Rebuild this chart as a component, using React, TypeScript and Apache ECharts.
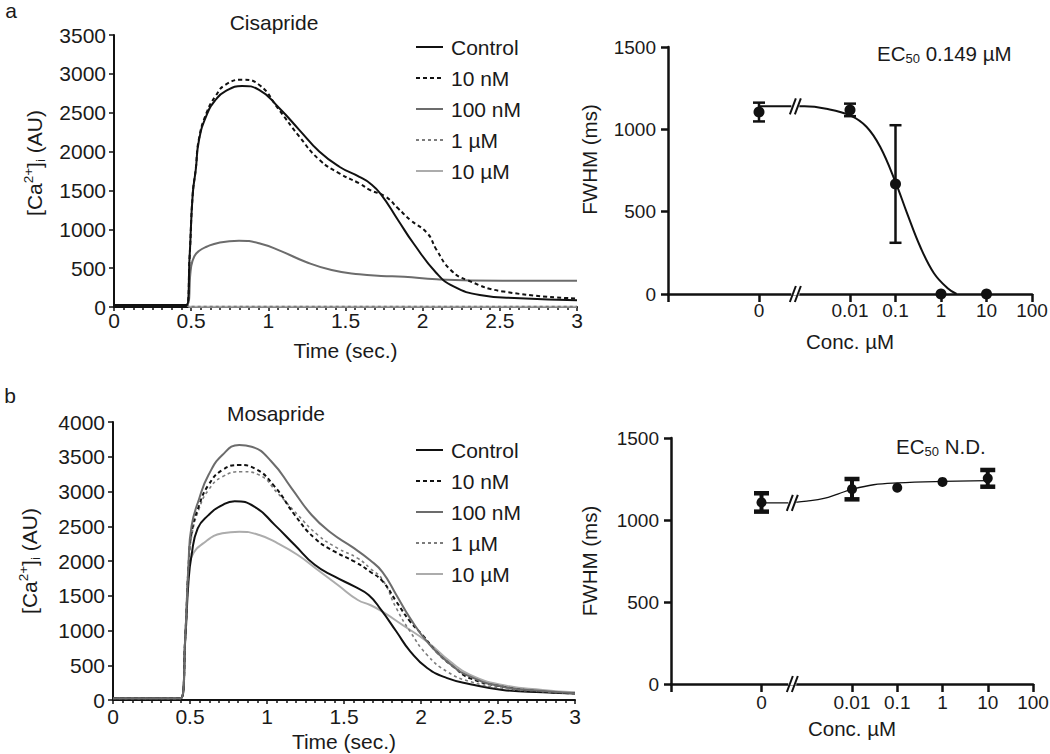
import React, { useEffect, useRef } from 'react';
import * as echarts from 'echarts';

const FONT = '"Liberation Sans", Arial, Helvetica, sans-serif';
const TXT = '#1a1a1a';
const AX = '#111111';

// ---------- Panel a : Cisapride Ca2+ transients ----------
const ctrlA_t = [0, 0.47, 0.49, 0.51, 0.53, 0.55, 0.6, 0.66, 0.72, 0.83, 0.94, 1.07, 1.2, 1.33, 1.46, 1.59, 1.66, 1.73, 1.84, 1.94, 2.09, 2.2, 2.37, 2.63, 3.0];
const ctrlA_v = [26, 26, 650, 1450, 1770, 2140, 2470, 2670, 2775, 2845, 2795, 2560, 2280, 2000, 1805, 1675, 1590, 1450, 1120, 820, 435, 265, 155, 112, 88];
const nm10A_t = [0, 0.47, 0.49, 0.51, 0.53, 0.55, 0.6, 0.66, 0.72, 0.83, 0.94, 1.07, 1.2, 1.33, 1.46, 1.59, 1.66, 1.76, 1.84, 1.92, 2.03, 2.09, 2.18, 2.29, 2.52, 3.0];
const nm10A_v = [26, 26, 650, 1450, 1780, 2160, 2500, 2720, 2857, 2925, 2860, 2535, 2195, 1895, 1720, 1590, 1505, 1420, 1270, 1120, 950, 735, 480, 345, 200, 110];
const nm100A_t = [0, 0.47, 0.5, 0.52, 0.55, 0.6, 0.68, 0.81, 0.94, 1.09, 1.24, 1.41, 1.59, 1.73, 1.88, 2.09, 2.52, 3.0];
const nm100A_v = [26, 26, 520, 650, 720, 775, 828, 853, 820, 712, 583, 476, 420, 400, 390, 356, 338, 338];
const um1A_t = [0, 0.47, 0.49, 3.0];
const um1A_v = [26, 26, 5, 5];
const um10A_t = [0, 0.47, 0.49, 3.0];
const um10A_v = [26, 26, 4, 4];

// ---------- Panel b : Mosapride Ca2+ transients ----------
const ctrlB_t = [0, 0.44, 0.47, 0.49, 0.51, 0.55, 0.62, 0.71, 0.79, 0.92, 1.05, 1.18, 1.31, 1.44, 1.57, 1.66, 1.74, 1.84, 1.93, 2.04, 2.17, 2.32, 2.53, 2.79, 3.0];
const ctrlB_v = [24, 24, 900, 1700, 2080, 2470, 2660, 2805, 2860, 2780, 2520, 2230, 1945, 1775, 1630, 1510, 1300, 985, 700, 460, 315, 228, 145, 110, 95];
const nm10B_t = [0, 0.44, 0.47, 0.49, 0.51, 0.56, 0.62, 0.71, 0.82, 0.92, 1.05, 1.18, 1.31, 1.44, 1.57, 1.67, 1.75, 1.84, 1.93, 2.01, 2.1, 2.21, 2.32, 2.53, 2.79, 3.0];
const nm10B_v = [24, 24, 950, 1900, 2400, 2806, 3094, 3309, 3381, 3333, 3070, 2662, 2326, 2134, 1990, 1846, 1710, 1415, 1127, 935, 695, 479, 312, 192, 120, 96];
const nm100B_t = [0, 0.44, 0.47, 0.49, 0.51, 0.56, 0.62, 0.71, 0.82, 0.9, 1.03, 1.16, 1.29, 1.42, 1.55, 1.67, 1.75, 1.84, 1.93, 2.04, 2.17, 2.32, 2.53, 2.79, 3.0];
const nm100B_v = [24, 24, 950, 1950, 2500, 2900, 3237, 3525, 3669, 3645, 3429, 3046, 2662, 2398, 2206, 2010, 1840, 1511, 1175, 839, 552, 336, 192, 130, 96];
const um1B_t = [0, 0.44, 0.47, 0.49, 0.51, 0.56, 0.62, 0.71, 0.84, 0.95, 1.07, 1.2, 1.33, 1.46, 1.59, 1.67, 1.75, 1.84, 1.93, 2.04, 2.17, 2.32, 2.53, 2.79, 3.0];
const um1B_v = [24, 24, 950, 1900, 2350, 2758, 3022, 3213, 3285, 3237, 2974, 2662, 2374, 2182, 2038, 1894, 1730, 1319, 983, 647, 408, 264, 168, 120, 96];
const um10B_t = [0, 0.44, 0.47, 0.49, 0.51, 0.6, 0.71, 0.82, 0.95, 1.07, 1.2, 1.33, 1.46, 1.59, 1.67, 1.75, 1.88, 2.04, 2.19, 2.32, 2.53, 2.79, 3.0];
const um10B_v = [24, 24, 950, 1850, 2062, 2278, 2398, 2422, 2374, 2254, 2086, 1871, 1655, 1439, 1367, 1271, 1079, 839, 552, 360, 216, 144, 110];

const traceNames = ['Control', '10 nM', '100 nM', '1 \u00B5M', '10 \u00B5M'];
const timeTicks = [0, 0.5, 1, 1.5, 2, 2.5, 3];

// ---------- Panels c / d : FWHM vs concentration ----------
const concValues = [0, 0.01, 0.1, 1, 10];
const concTickLabels = ['0', '0.01', '0.1', '1', '10', '100'];
const ZERO_POS = 1e-4; // where the "0" concentration is drawn on the log axis
const cisMean = [1105, 1118, 668, 0, 0];
const cisErr = [57, 38, 357, 0, 0];
const cisTop = 1140;
const cisFitX = [0.0007, 0.001, 0.003, 0.01, 0.023, 0.046, 0.1, 0.18, 0.35, 0.7, 1.4, 2.2];
const cisFitY = [1140, 1140, 1125, 1085, 1016, 894, 680, 490, 287, 126, 35, 0];
const mosMean = [1107, 1188, 1197, 1232, 1254];
const mosErr = [56, 62, 0, 0, 51];
const mosTop = 1105;
const mosFitX = [0.00055, 0.001, 0.0024, 0.005, 0.01, 0.03, 0.1, 1, 10];
const mosFitY = [1108, 1115, 1132, 1160, 1187, 1215, 1226, 1235, 1240];

const traceStyles = [
  { color: '#111111', width: 2, type: 'solid' as any },
  { color: '#111111', width: 2, type: [4, 3] as any },
  { color: '#6c6c6c', width: 2, type: 'solid' as any },
  { color: '#7c7c7c', width: 1.6, type: [3, 3] as any },
  { color: '#acacac', width: 2, type: 'solid' as any },
];

const pos = (c: number) => (c === 0 ? ZERO_POS : c);

function traceSeries(idx: number, t: number[], v: number[], axis: number, z: number) {
  const st = traceStyles[idx];
  return {
    type: 'line',
    name: traceNames[idx],
    xAxisIndex: axis,
    yAxisIndex: axis,
    data: t.map((x, i) => [x, v[i]]),
    symbol: 'none',
    showSymbol: false,
    smooth: 0.5,
    lineStyle: { color: st.color, width: st.width, type: st.type },
    itemStyle: { color: st.color },
    z,
  };
}

function errorSeries(axis: number, mean: number[], err: number[], capW: number, capLW: number, stemW: number) {
  const data = concValues
    .map((c, i) => [pos(c), mean[i], err[i]])
    .filter((d) => d[2] > 0);
  return {
    type: 'custom',
    xAxisIndex: axis,
    yAxisIndex: axis,
    data,
    encode: { x: 0, y: 1 },
    z: 5,
    renderItem: (_p: any, api: any) => {
      const x = api.value(0);
      const m = api.value(1);
      const e = api.value(2);
      const top = api.coord([x, m + e]);
      const bot = api.coord([x, m - e]);
      const hw = capW / 2;
      const st = { stroke: AX, lineWidth: stemW };
      const cs = { stroke: AX, lineWidth: capLW };
      return {
        type: 'group',
        children: [
          { type: 'line', shape: { x1: top[0], y1: top[1], x2: bot[0], y2: bot[1] }, style: st },
          { type: 'line', shape: { x1: top[0] - hw, y1: top[1], x2: top[0] + hw, y2: top[1] }, style: cs },
          { type: 'line', shape: { x1: bot[0] - hw, y1: bot[1], x2: bot[0] + hw, y2: bot[1] }, style: cs },
        ],
      };
    },
  };
}

function breakSeries(axis: number, pts: number[][]) {
  return {
    type: 'custom',
    xAxisIndex: axis,
    yAxisIndex: axis,
    data: pts,
    encode: { x: 0, y: 1 },
    z: 6,
    renderItem: (_p: any, api: any) => {
      const p = api.coord([api.value(0), api.value(1)]);
      const mk = (o: number) => ({
        type: 'line',
        shape: { x1: p[0] + o - 3, y1: p[1] + 8, x2: p[0] + o + 3, y2: p[1] - 8 },
        style: { stroke: AX, lineWidth: 2 },
      });
      return {
        type: 'group',
        children: [
          { type: 'rect', shape: { x: p[0] - 4, y: p[1] - 1.5, width: 8, height: 3 }, style: { fill: '#fff' } },
          mk(-2.5),
          mk(2.5),
        ],
      };
    },
  };
}

const labelFont = { fontFamily: FONT, fontSize: 21, color: TXT };
const smallFont = { fontFamily: FONT, fontSize: 19, color: TXT };
const nameFont = { fontFamily: FONT, fontSize: 20.5, color: TXT };
const plainNum = (v: number) => String(v);

const caRich = {
  n: { fontFamily: FONT, fontSize: 21, color: TXT, lineHeight: 26 },
  sup: { fontFamily: FONT, fontSize: 13.5, color: TXT, lineHeight: 13, verticalAlign: 'top' },
  sub: { fontFamily: FONT, fontSize: 13.5, color: TXT, lineHeight: 13, verticalAlign: 'bottom' },
};
const caName = '{n|[Ca}{sup|2+}{n|]}{sub|i}{n| (AU)}';

function timeXAxis(grid: number, labelMargin: number, nameGap: number) {
  return {
    gridIndex: grid,
    type: 'value',
    min: timeTicks[0],
    max: timeTicks[timeTicks.length - 1],
    interval: 0.5,
    axisLine: { show: true, onZero: false, lineStyle: { color: AX, width: 2 } },
    axisTick: { show: true, length: 4, lineStyle: { color: AX, width: 1.5 } },
    minorTick: { show: true, splitNumber: 8, length: 3, lineStyle: { color: AX, width: 1.5 } },
    splitLine: { show: false },
    minorSplitLine: { show: false },
    axisLabel: { ...labelFont, margin: labelMargin, formatter: plainNum },
    name: 'Time (sec.)',
    nameLocation: 'middle',
    nameGap,
    nameTextStyle: { ...labelFont },
  };
}

function caYAxis(grid: number, max: number, nameGap: number, shift: number) {
  return {
    gridIndex: grid,
    type: 'value',
    min: 0,
    max,
    interval: 500,
    axisLine: { show: true, onZero: false, lineStyle: { color: AX, width: 2 } },
    axisTick: { show: true, length: 5, lineStyle: { color: AX, width: 1.5 } },
    splitLine: { show: false },
    axisLabel: { ...labelFont, margin: 8, formatter: plainNum },
    name: caName,
    nameLocation: 'middle',
    nameRotate: 90,
    nameGap,
    nameTextStyle: { rich: caRich, padding: [0, 0, 0, shift] },
  };
}

const concFormatter = (v: number) => {
  const e = Math.round(Math.log10(v));
  const map: Record<string, string> = {
    '-4': concTickLabels[0],
    '-2': concTickLabels[1],
    '-1': concTickLabels[2],
    '0': concTickLabels[3],
    '1': concTickLabels[4],
    '2': concTickLabels[5],
  };
  return map[String(e)] ?? '';
};

function concXAxis(grid: number, labelMargin: number, nameGap: number) {
  return {
    gridIndex: grid,
    type: 'log',
    logBase: 10,
    min: 1e-6,
    max: 100,
    axisLine: { show: true, onZero: false, lineStyle: { color: AX, width: 2.5 } },
    axisTick: {
      show: true,
      length: 8,
      customValues: [1e-6, ZERO_POS, 0.01, 0.1, 1, 10, 100],
      lineStyle: { color: AX, width: 2.5 },
    },
    minorTick: { show: false },
    splitLine: { show: false },
    axisLabel: {
      ...smallFont,
      margin: labelMargin,
      customValues: [ZERO_POS, 0.01, 0.1, 1, 10, 100],
      formatter: concFormatter,
    },
    name: 'Conc. \u00B5M',
    nameLocation: 'middle',
    nameGap,
    nameTextStyle: { ...nameFont },
  };
}

function fwhmYAxis(grid: number, nameGap: number, shift: number) {
  return {
    gridIndex: grid,
    type: 'value',
    min: 0,
    max: 1500,
    interval: 500,
    axisLine: { show: true, onZero: false, lineStyle: { color: AX, width: 2.5 } },
    axisTick: { show: true, length: 7, lineStyle: { color: AX, width: 2.5 } },
    splitLine: { show: false },
    axisLabel: { ...smallFont, margin: 12, formatter: plainNum },
    name: 'FWHM (ms)',
    nameLocation: 'middle',
    nameRotate: 90,
    nameGap,
    nameTextStyle: { ...nameFont, padding: [0, 0, 0, shift] },
  };
}

function legendFor(top: number) {
  return {
    data: traceNames,
    orient: 'vertical',
    left: 410,
    top,
    itemWidth: 27,
    itemHeight: 12,
    itemGap: 9,
    selectedMode: false,
    itemStyle: { color: 'rgba(0,0,0,0)', borderWidth: 0, opacity: 0 },
    textStyle: { ...labelFont, lineHeight: 22, padding: [0, 0, 0, 3] },
  };
}

const textEl = (text: string, x: number, y: number, align = 'center') => ({
  type: 'text',
  x,
  y,
  style: { text, fill: TXT, font: `21px ${FONT}`, align, verticalAlign: 'middle' },
});

const ecRich = {
  n: { fontFamily: FONT, fontSize: 20.5, fill: TXT, color: TXT, lineHeight: 24 },
  s: { fontFamily: FONT, fontSize: 13, fill: TXT, color: TXT, lineHeight: 13, verticalAlign: 'bottom' },
};
const ecEl = (rest: string, x: number, y: number) => ({
  type: 'text',
  x,
  y,
  style: { text: `{n|EC}{s|50}{n|${rest}}`, rich: ecRich, align: 'left', verticalAlign: 'middle', fill: TXT },
});

export default function App() {
  const ref = useRef<HTMLDivElement>(null);
  useEffect(() => {
    if (!ref.current) return;
    const chart = echarts.init(ref.current, undefined, { renderer: 'svg' });
    const option: any = {
      animation: false,
      backgroundColor: '#ffffff',
      textStyle: { fontFamily: FONT },
      grid: [
        { left: 114, top: 35, width: 463, height: 272, containLabel: false, outerBoundsMode: 'none' },
        { left: 113, top: 422, width: 462, height: 278, containLabel: false, outerBoundsMode: 'none' },
        { left: 668, top: 47, width: 364, height: 247, containLabel: false, outerBoundsMode: 'none' },
        { left: 671, top: 438, width: 362, height: 246, containLabel: false, outerBoundsMode: 'none' },
      ],
      xAxis: [timeXAxis(0, 3, 33), timeXAxis(1, 6, 31), concXAxis(2, 7, 37), concXAxis(3, 9, 34)],
      yAxis: [caYAxis(0, 3500, 67, 16), caYAxis(1, 4000, 71, 0), fwhmYAxis(2, 68, 22), fwhmYAxis(3, 71, 0)],
      legend: [legendFor(31), legendFor(434)],
      series: [
        traceSeries(4, um10A_t, um10A_v, 0, 2),
        traceSeries(3, um1A_t, um1A_v, 0, 3),
        traceSeries(2, nm100A_t, nm100A_v, 0, 4),
        traceSeries(1, nm10A_t, nm10A_v, 0, 5),
        traceSeries(0, ctrlA_t, ctrlA_v, 0, 6),
        traceSeries(4, um10B_t, um10B_v, 1, 2),
        traceSeries(0, ctrlB_t, ctrlB_v, 1, 3),
        traceSeries(3, um1B_t, um1B_v, 1, 4),
        traceSeries(1, nm10B_t, nm10B_v, 1, 5),
        traceSeries(2, nm100B_t, nm100B_v, 1, 6),
        // panel c
        {
          type: 'line', xAxisIndex: 2, yAxisIndex: 2, symbol: 'none',
          data: [[ZERO_POS, cisTop], [5.6e-4, cisTop]],
          lineStyle: { color: AX, width: 2 }, z: 3,
        },
        {
          type: 'line', xAxisIndex: 2, yAxisIndex: 2, symbol: 'none', smooth: 0.4,
          data: cisFitX.map((x, i) => [x, cisFitY[i]]),
          lineStyle: { color: AX, width: 2 }, z: 3,
        },
        errorSeries(2, cisMean, cisErr, 12, 2.5, 2.5),
        {
          type: 'scatter', xAxisIndex: 2, yAxisIndex: 2, symbol: 'circle', symbolSize: 11,
          data: concValues.map((c, i) => [pos(c), cisMean[i]]),
          itemStyle: { color: AX, opacity: 1 }, z: 7,
        },
        breakSeries(2, [[6.3e-4, 0], [6.3e-4, cisTop]]),
        // panel d
        {
          type: 'line', xAxisIndex: 3, yAxisIndex: 3, symbol: 'none',
          data: [[ZERO_POS, mosTop], [4.3e-4, mosTop]],
          lineStyle: { color: AX, width: 1.3 }, z: 3,
        },
        {
          type: 'line', xAxisIndex: 3, yAxisIndex: 3, symbol: 'none', smooth: 0.4,
          data: mosFitX.map((x, i) => [x, mosFitY[i]]),
          lineStyle: { color: AX, width: 1.3 }, z: 3,
        },
        errorSeries(3, mosMean, mosErr, 15, 4.5, 4),
        {
          type: 'scatter', xAxisIndex: 3, yAxisIndex: 3, symbol: 'circle', symbolSize: 10,
          data: concValues.map((c, i) => [pos(c), mosMean[i]]),
          itemStyle: { color: AX, opacity: 1 }, z: 7,
        },
        breakSeries(3, [[4.8e-4, 0], [4.8e-4, mosTop]]),
      ],
      graphic: [
        textEl('a', 11, 10),
        textEl('b', 10, 395),
        textEl('Cisapride', 274, 22),
        textEl('Mosapride', 276, 413),
        ecEl(' 0.149 \u00B5M', 877, 53),
        ecEl(' N.D.', 896, 446),
      ],
    };
    chart.setOption(option);
    return () => chart.dispose();
  }, []);
  return (
    <div
      ref={ref}
      style={{ position: 'absolute', left: 0, top: 0, width: 1050, height: 754, background: '#fff' }}
    />
  );
}
